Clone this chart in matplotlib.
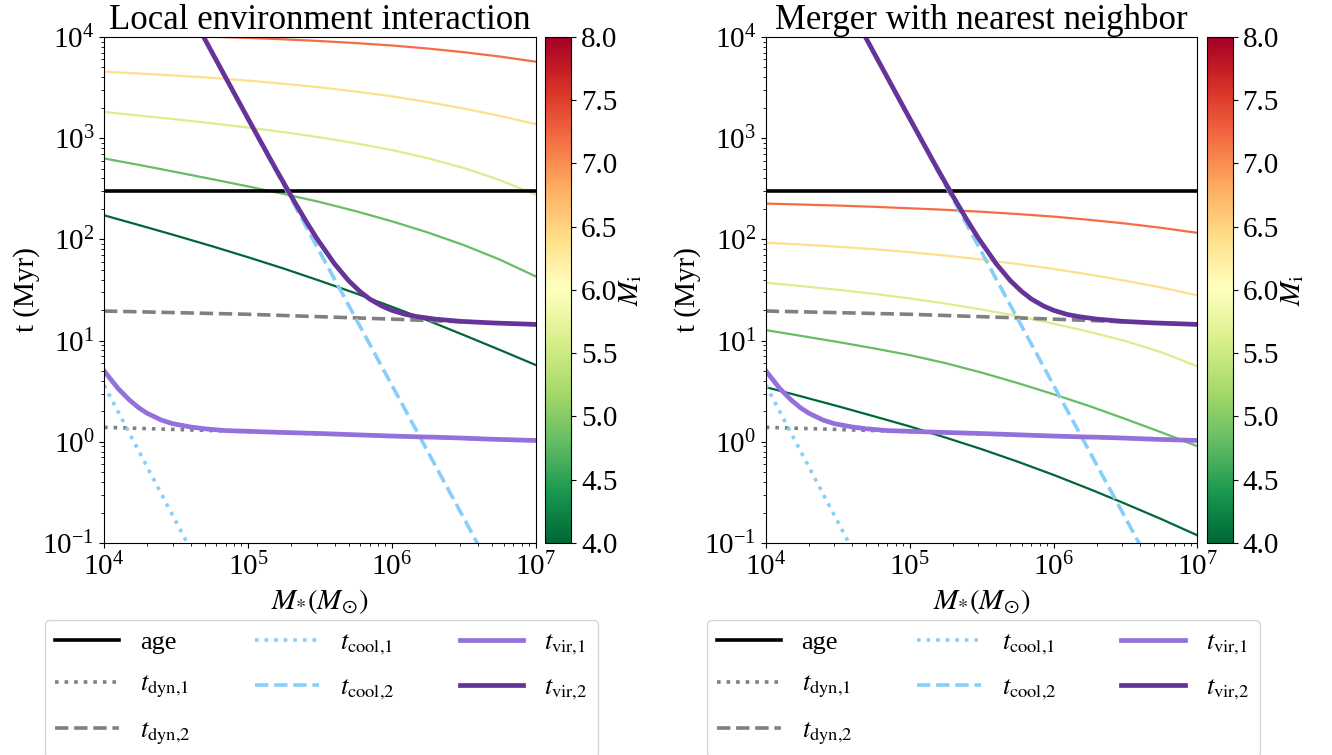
import matplotlib
matplotlib.use("Agg")
import matplotlib.pyplot as plt
import numpy as np
from matplotlib import cm, colors

plt.rcParams["font.family"] = ["Liberation Serif", "DejaVu Serif"]
plt.rcParams["mathtext.fontset"] = "stix"
plt.rcParams["font.size"] = 21

# values
MASS_LINES = [4.0, 4.8, 5.6, 6.4, 7.2]          # M_i of the coloured curves
MASS_GRID = [1e4, 1.78e4, 3.16e4, 5.62e4, 1e5, 1.78e5, 3.16e5, 5.62e5,
             1e6, 1.78e6, 3.16e6, 5.62e6, 1e7]

T_LOCAL = [
    [173, 137.6, 109.0, 85.7, 66.7, 51.4, 39.0, 29.3, 21.6, 15.8, 11.35, 8.10, 5.74],
    [631, 542, 463, 394, 334, 281, 234, 190, 151, 117, 87.9, 63.2, 43.1],
    [1816, 1671, 1535, 1403, 1274, 1146, 1019, 891, 764, 634, 507, 386, 277],
    [4539, 4355, 4159, 3945, 3707, 3451, 3177, 2891, 2594, 2275, 1963, 1663, 1380],
    [10715, 10520, 10304, 10069, 9795, 9484, 9120, 8710, 8241, 7691, 7079, 6412, 5702],
]
T_MERGER = [
    [3.47, 2.80, 2.25, 1.79, 1.42, 1.10, 0.846, 0.637, 0.471, 0.341, 0.244, 0.172, 0.119],
    [12.7, 11.1, 9.70, 8.39, 7.19, 5.98, 4.83, 3.81, 2.95, 2.25, 1.68, 1.24, 0.904],
    [37.3, 34.5, 31.8, 29.0, 26.1, 23.2, 20.3, 17.5, 14.7, 12.2, 9.89, 7.67, 5.56],
    [92.7, 88.9, 84.7, 80.0, 74.8, 69.2, 63.2, 57.1, 51.1, 44.9, 39.0, 33.4, 28.0],
    [226, 221, 216, 210, 203, 196, 187.5, 178, 168, 156, 143.5, 130, 116],
]

AGE = 300.0
DYN_GRID = [1e4, 1e5, 1e6, 1e7]
T_DYN1 = [1.39, 1.26, 1.14, 1.03]
T_DYN2 = [19.6, 18.2, 16.3, 14.4]

COOL1_GRID = [1e4, 2e4, 4e4]
T_COOL1 = [3.64, 0.56, 0.086]
COOL2_GRID = [3e4, 1e5, 3e5, 1e6, 4e6, 1e7]
T_COOL2 = [36700, 1550, 86, 3.63, 0.095, 0.0025]

VIR1_GRID = [1e4, 1.25e4, 1.5e4, 1.75e4, 2e4, 2.5e4, 3e4, 4e4, 5e4, 7e4, 1e5,
             1.5e5, 2e5, 3e5, 5e5, 7e5, 1e6, 1.5e6, 2e6, 3e6, 5e6, 1e7]
T_VIR1 = [5.03, 3.37, 2.59, 2.16, 1.91, 1.64, 1.51, 1.40, 1.345, 1.29, 1.27,
          1.245, 1.23, 1.21, 1.18, 1.16, 1.14, 1.12, 1.11, 1.09, 1.06, 1.03]
VIR2_GRID = [4e4, 5e4, 7e4, 1e5, 1.5e5, 2e5, 2.5e5, 3e5, 4e5, 5e5, 6e5, 7e5,
             8.5e5, 1e6, 1.25e6, 1.5e6, 2e6, 3e6, 5e6, 1e7]
T_VIR2 = [17300, 9610, 3980, 1567, 550, 267, 156, 103, 57.3, 39.2, 30.6, 25.8,
          22.0, 19.9, 18.1, 17.25, 16.3, 15.5, 14.95, 14.45]

TITLES = ["Local environment interaction", "Merger with nearest neighbor"]

cmap = plt.get_cmap("RdYlGn_r")
norm = colors.Normalize(vmin=4.0, vmax=8.0)

fig = plt.figure(figsize=(13.32, 7.55), dpi=100)

panels = [
    (0.0781, 0.4092, T_LOCAL),
    (0.5749, 0.9059, T_MERGER),
]

for i, (ax_x, cb_x, tcurves) in enumerate(panels):
    ax = fig.add_axes([ax_x, 0.2808, 0.3241, 0.6702])
    cax = fig.add_axes([cb_x, 0.2808, 0.0197, 0.6702])

    for m, t in zip(MASS_LINES, tcurves):
        ax.plot(MASS_GRID, t, color=cmap(norm(m)), lw=1.6)

    ax.axhline(AGE, color="black", lw=2.6, label="age")
    ax.plot(DYN_GRID, T_DYN1, color="gray", ls=":", lw=2.6, label=r"$t_{\rm dyn{,}1}$")
    ax.plot(DYN_GRID, T_DYN2, color="gray", ls="--", lw=2.6, label=r"$t_{\rm dyn{,}2}$")
    ax.plot(COOL1_GRID, T_COOL1, color="lightskyblue", ls=":", lw=2.6,
            label=r"$t_{\rm cool{,}1}$")
    ax.plot(COOL2_GRID, T_COOL2, color="lightskyblue", ls="--", lw=2.6,
            label=r"$t_{\rm cool{,}2}$")
    ax.plot(VIR1_GRID, T_VIR1, color="mediumpurple", lw=3.4, label=r"$t_{\rm vir{,}1}$")
    ax.plot(VIR2_GRID, T_VIR2, color="rebeccapurple", lw=3.4, label=r"$t_{\rm vir{,}2}$")

    ax.set_xscale("log")
    ax.set_yscale("log")
    ax.set_xlim(1e4, 1e7)
    ax.set_ylim(1e-1, 1e4)
    ax.set_title(TITLES[i], fontsize=25, pad=4)
    ax.set_xlabel(r"$M_{*}(M_{\odot})$")
    ax.set_ylabel("t (Myr)", labelpad=2)

    ax.legend(loc="upper left", bbox_to_anchor=(-0.137, -0.152, 1.281, 0),
              mode="expand", ncol=3, fontsize=19, handlelength=2.4,
              labelspacing=0.7, borderaxespad=0)

    sm = cm.ScalarMappable(norm=norm, cmap=cmap)
    cb = fig.colorbar(sm, cax=cax, ticks=np.arange(4.0, 8.01, 0.5))
    cb.ax.set_yticklabels([f"{v:.1f}" for v in np.arange(4.0, 8.01, 0.5)])
    cb.set_label(r"$M_{\rm i}$", labelpad=0)

fig.savefig("out.png", dpi=100)
